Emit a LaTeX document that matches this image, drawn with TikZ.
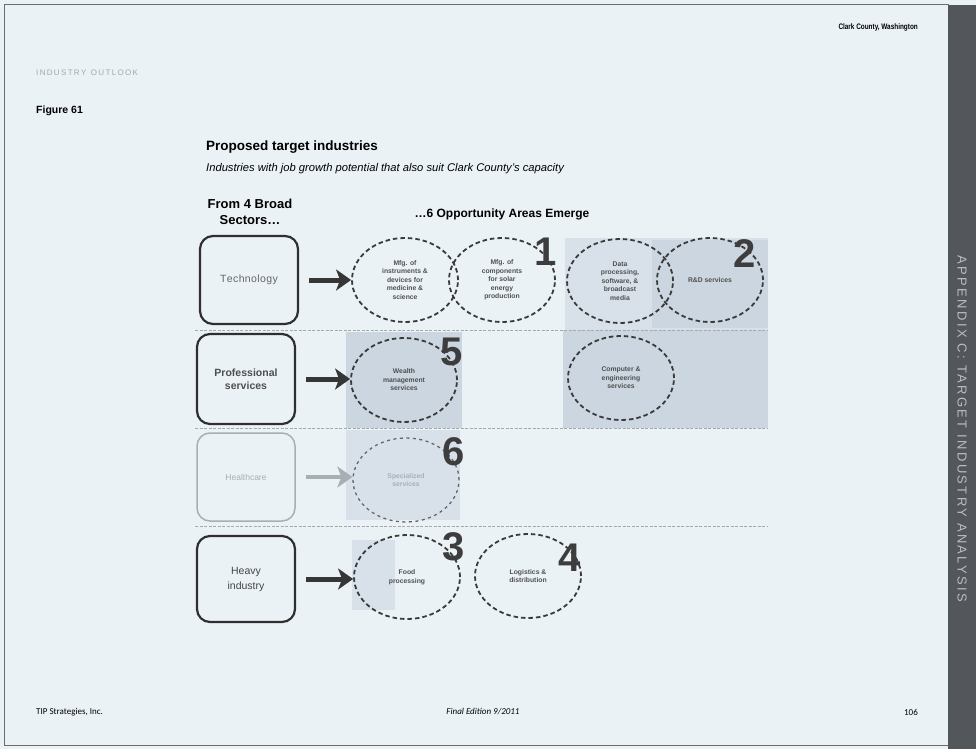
\documentclass[tikz,border=0pt]{standalone}
\usepackage{fontspec}
\setmainfont{Liberation Sans}
\newfontfamily\narrowfont[FakeStretch=0.8]{Liberation Sans}
\newfontfamily\sidefont[LetterSpace=18]{Liberation Sans}
\newfontfamily\califont{Carlito}
\usetikzlibrary{shapes.geometric,arrows.meta}
\definecolor{bg}{HTML}{EBF2F6}
\definecolor{framec}{HTML}{6A6E72}
\definecolor{sidec}{HTML}{53575C}
\definecolor{sidetext}{HTML}{B9BEC3}
\definecolor{boxc}{HTML}{2F2F2F}
\definecolor{dashc}{HTML}{3A3A3A}
\definecolor{etext}{HTML}{505050}
\definecolor{numc}{HTML}{3D3D3D}
\definecolor{arrc}{HTML}{363636}
\definecolor{sepc}{HTML}{A4AAB0}
\definecolor{shadeA}{HTML}{CBD6E0}
\definecolor{shadeB}{HTML}{D8E1E9}
\definecolor{fadec}{HTML}{A9AEB3}
\definecolor{outlook}{HTML}{A0A8AE}
\begin{document}
\begin{tikzpicture}[x=1pt,y=-1pt,
  sector/.style={draw=boxc, line width=2.2pt, rounded corners=13pt, minimum width=98pt, minimum height=88pt, align=center, inner sep=0pt},
  opp/.style={ellipse, draw=dashc, dash pattern=on 4.5pt off 3pt, line width=1.8pt, minimum width=106pt, minimum height=84pt, inner sep=0pt, align=center, text=etext, font=\fontsize{6.8}{8.5}\selectfont\bfseries},
  num/.style={font=\fontsize{40}{40}\selectfont\bfseries, text=numc, inner sep=0pt},
  arr/.style={line width=5pt, draw=arrc, -{Stealth[length=15pt,width=21pt,inset=4pt]}},
  sep/.style={draw=sepc, line width=0.6pt, dash pattern=on 3pt off 1.5pt},
  txt/.style={inner sep=0pt}
]
\useasboundingbox (0,0) rectangle (976,749);
\fill[bg] (0,0) rectangle (976,749);
% page frame and side bar
\draw[framec, line width=1pt] (4,5) rectangle (948,745);
\fill[sidec] (948,5) rectangle (976,749);
\node[txt, rotate=-90, text=sidetext, font=\sidefont\fontsize{13}{14}\selectfont] (side) at (962,429) {APPENDIX C: TARGET INDUSTRY ANALYSIS};

% header
\node[txt, anchor=east, font=\narrowfont\fontsize{8}{9}\selectfont\bfseries] (county) at (918,27) {Clark County, Washington};
\node[txt, anchor=west, text=outlook, font=\fontsize{8}{9}\selectfont] (outl) at (36,73) {I\,N\,D\,U\,S\,T\,R\,Y\ \ O\,U\,T\,L\,O\,O\,K};
\node[txt, anchor=west, font=\fontsize{10.5}{12}\selectfont\bfseries] (fig) at (36,111) {Figure 61};
\node[txt, anchor=west, font=\fontsize{13.5}{15}\selectfont\bfseries] (title) at (206,147) {Proposed target industries};
\node[txt, anchor=west, font=\fontsize{11.2}{12}\selectfont\itshape] (subt) at (206,169) {Industries with job growth potential that also suit Clark County's capacity};

% shading
\fill[shadeB] (565,238) rectangle (768,330);
\fill[shadeA] (652,240) rectangle (768,328);
\fill[shadeA] (346,332) rectangle (462,428);
\fill[shadeA] (563,330) rectangle (768,428);
\fill[shadeB] (346,430) rectangle (460,520);
\fill[shadeB] (352,540) rectangle (395,610);

% separators
\draw[sep] (195,330) -- (768,330);
\draw[sep] (195,428) -- (768,428);
\draw[sep] (195,526) -- (768,526);

% column headings
\node[txt, align=center, font=\fontsize{13}{15.5}\selectfont\bfseries] (head1) at (250,212) {From 4 Broad\\Sectors\ldots};
\node[txt, font=\fontsize{12}{14}\selectfont\bfseries] (head2) at (502,214) {\ldots6 Opportunity Areas Emerge};

% sectors
\node[sector, text=gray!80!black, font=\fontsize{10.5}{12}\selectfont] (tech) at (249,280) {T\kern0.4pt e\kern0.4pt c\kern0.4pt h\kern0.4pt n\kern0.4pt o\kern0.4pt l\kern0.4pt o\kern0.4pt g\kern0.4pt y};
\node[sector, minimum height=90pt, text=boxc!85, font=\fontsize{10.5}{13}\selectfont\bfseries] (prof) at (246,379) {Professional\\services};
\node[sector, draw=fadec, line width=1.5pt, text=fadec, font=\fontsize{8.5}{10}\selectfont] (health) at (246,477) {Healthcare};
\node[sector, minimum height=86pt, text=boxc!90, font=\fontsize{10.5}{15}\selectfont] (heavy) at (246,579) {Heavy\\industry};

% opportunity areas
\node[opp] (e1) at (405,280) {Mfg. of\\instruments \&\\devices for\\medicine \&\\science};
\node[opp] (e2) at (502,280) {Mfg. of\\components\\for solar\\energy\\production};
\node[opp] (e3) at (620,281) {Data\\processing,\\software, \&\\broadcast\\media};
\node[opp] (e4) at (710,280) {R\&D services};
\node[opp] (e5) at (404,380) {Wealth\\management\\services};
\node[opp] (e6) at (621,378) {Computer \&\\engineering\\services};
\node[opp, draw=gray!80!black, line width=1.3pt, dash pattern=on 3pt off 3.5pt, text=fadec] (e7) at (406,480) {Specialized\\services};
\node[opp] (e8) at (407,577) {Food\\processing};
\node[opp] (e9) at (528,576) {Logistics \&\\distribution};

% arrows
\draw[arr] ([xshift=10pt]tech.east) -- (tech.east -| e1.west);
\draw[arr] ([xshift=10pt]prof.east) -- (prof.east -| e5.west);
\draw[arr, draw=fadec, line width=4pt] ([xshift=10pt]health.east) -- (health.east -| e7.west);
\draw[arr] ([xshift=10pt]heavy.east) -- (heavy.east -| e8.west);

% numbers
\node[num] (n1) at (546,252) {1};
\node[num] (n2) at (745,254) {2};
\node[num] (n5) at (452,352) {5};
\node[num] (n6) at (454,452) {6};
\node[num] (n3) at (454,547) {3};
\node[num] (n4) at (570,558) {4};

% footer
\node[txt, anchor=west, font=\califont\fontsize{9}{10}\selectfont] (foot1) at (36,712) {TIP Strategies, Inc.};
\node[txt, font=\califont\fontsize{9}{10}\selectfont\itshape] (foot2) at (483,712) {Final Edition 9/2011};
\node[txt, anchor=east, font=\califont\fontsize{9}{10}\selectfont] (foot3) at (918,712) {106};
\end{tikzpicture}
\end{document}
